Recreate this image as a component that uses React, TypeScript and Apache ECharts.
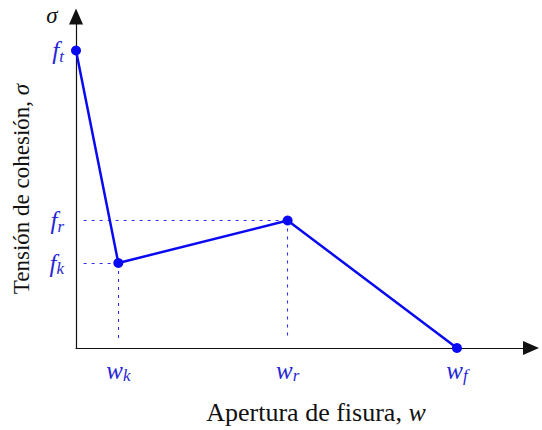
import React, { useEffect, useRef } from "react";
import * as echarts from "echarts";

// Cohesive law: crack opening w vs. cohesive stress sigma
const crackOpening = [0, 1, 5, 9];
const cohesiveStress = [7, 2, 3, 0];

// Subscripts of the tick labels on each axis
const xTickSubs: Record<number, string> = { 1: "k", 5: "r", 9: "f" };
const yTickSubs: Record<number, string> = { 7: "t", 3: "r", 2: "k" };

const xAxisTitle = "Apertura de fisura, ";
const yAxisTitle = "Tensión de cohesión, ";

const BLUE = "#0a0af2";
const LABEL_BLUE = "#2626d6";
const SERIF = "'Liberation Serif', serif";

export default function App() {
  const ref = useRef<HTMLDivElement>(null);

  useEffect(() => {
    if (!ref.current) return;
    const chart = echarts.init(ref.current, undefined, { renderer: "svg" });

    const points = crackOpening.map((w, i) => [w, cohesiveStress[i]]);
    const guideLines: any[] = [];
    // dotted guides for the interior points
    for (let i = 1; i < points.length - 1; i++) {
      const [w, s] = points[i];
      guideLines.push([{ coord: [0.18, s] }, { coord: [w, s] }]);
      guideLines.push([{ coord: [w, s] }, { coord: [w, 0.2] }]);
    }

    const richTick = {
      m: { fontFamily: SERIF, fontStyle: "italic", fontSize: 25, color: LABEL_BLUE, lineHeight: 28, verticalAlign: "middle" },
      s: { fontFamily: SERIF, fontStyle: "italic", fontSize: 17, color: LABEL_BLUE, lineHeight: 17, verticalAlign: "bottom" },
    };

    const axisLabelBase = {
      fontFamily: SERIF,
      fontStyle: "italic",
      color: LABEL_BLUE,
      rich: richTick,
    };

    chart.setOption({
      animation: false,
      backgroundColor: "#ffffff",
      textStyle: { fontFamily: SERIF },
      grid: { left: 76, right: 11, top: 16.5, bottom: 82, containLabel: false },
      xAxis: {
        type: "value",
        min: 0,
        max: 10.75,
        interval: 1,
        splitLine: { show: false },
        axisTick: { show: false },
        axisLine: {
          show: true,
          symbol: ["none", "triangle"],
          symbolSize: [14, 16],
          lineStyle: { color: "#111", width: 1.2 },
        },
        axisLabel: {
          ...axisLabelBase,
          margin: 8,
          formatter: (v: number) => (xTickSubs[v] ? `{m|w}{s|${xTickSubs[v]}}` : ""),
        },
      },
      yAxis: {
        type: "value",
        min: 0,
        max: 7.8,
        interval: 1,
        splitLine: { show: false },
        axisTick: { show: false },
        axisLine: {
          show: true,
          symbol: ["none", "triangle"],
          symbolSize: [14, 16],
          lineStyle: { color: "#111", width: 1.2 },
        },
        axisLabel: {
          ...axisLabelBase,
          margin: 12,
          formatter: (v: number) => (yTickSubs[v] ? `{m|f}{s|${yTickSubs[v]}}` : ""),
        },
      },
      graphic: [
        {
          type: "text",
          x: 52,
          y: 15,
          style: {
            text: "σ",
            fontFamily: SERIF,
            fontStyle: "italic",
            fontSize: 23,
            fill: "#111",
            align: "center",
            verticalAlign: "middle",
          },
        },
        {
          type: "text",
          x: 316,
          y: 412,
          style: {
            text: `{r|${xAxisTitle}}{i|w}`,
            fontFamily: SERIF,
            fontSize: 26,
            rich: {
              r: { fontFamily: SERIF, fontSize: 26, fill: "#111" },
              i: { fontFamily: SERIF, fontSize: 26, fontStyle: "italic", fill: "#111" },
            },
            align: "center",
            verticalAlign: "middle",
          },
        },
        {
          type: "text",
          x: 21,
          y: 189,
          rotation: Math.PI / 2,
          style: {
            text: `{r|${yAxisTitle}}{i|σ}`,
            fontFamily: SERIF,
            fontSize: 23,
            rich: {
              r: { fontFamily: SERIF, fontSize: 23, fill: "#111" },
              i: { fontFamily: SERIF, fontSize: 23, fontStyle: "italic", fill: "#111" },
            },
            align: "center",
            verticalAlign: "middle",
          },
        },
      ],
      series: [
        {
          type: "line",
          data: points,
          symbol: "circle",
          symbolSize: 10,
          lineStyle: { color: BLUE, width: 2.5 },
          itemStyle: { color: BLUE },
          z: 3,
          markLine: {
            silent: true,
            symbol: "none",
            label: { show: false },
            lineStyle: { color: BLUE, width: 1.1, type: [3, 5], opacity: 0.85 },
            data: guideLines,
            z: 1,
          },
        },
      ],
    });

    return () => chart.dispose();
  }, []);

  return (
    <div
      ref={ref}
      style={{ position: "fixed", left: 0, top: 0, width: 542, height: 430, background: "#fff" }}
    />
  );
}
